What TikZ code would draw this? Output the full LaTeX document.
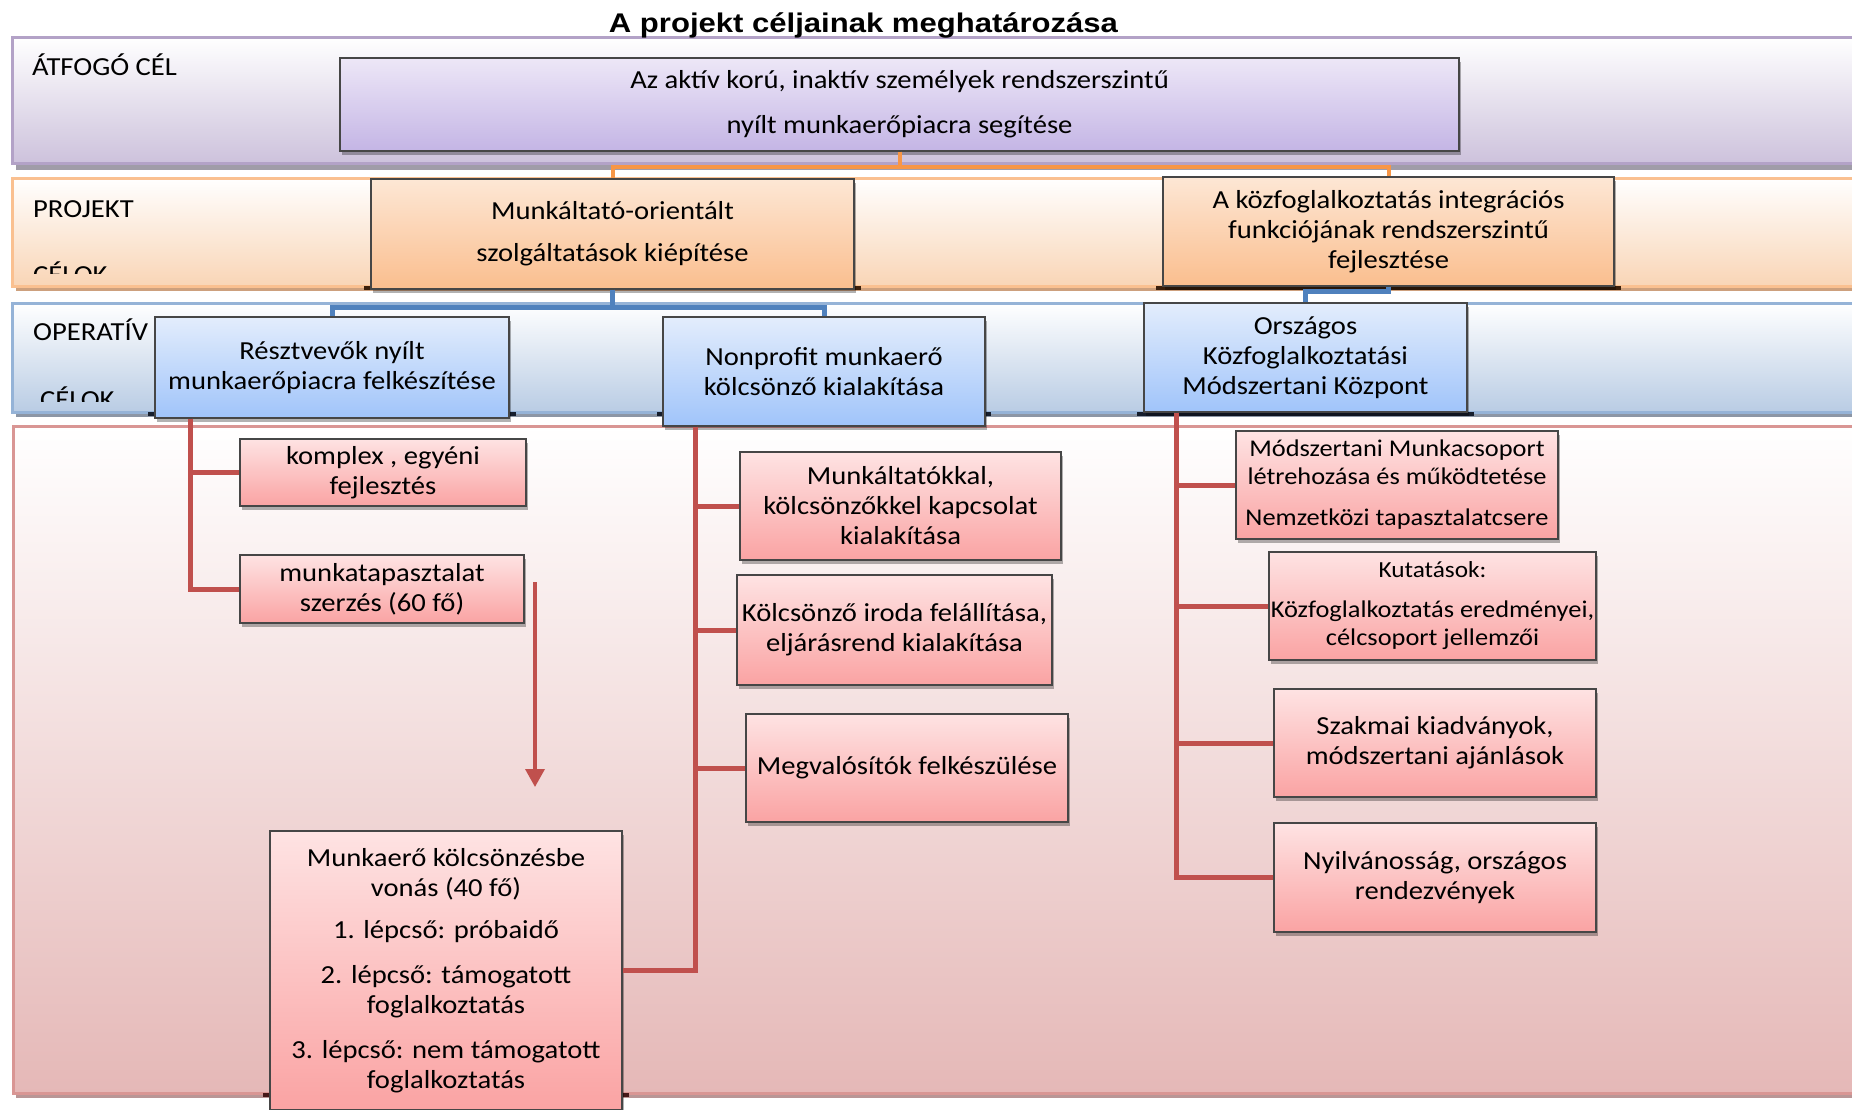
\documentclass[tikz,border=0pt]{standalone}
\usepackage{fontspec}
\setmainfont{Carlito}[FakeStretch=1.1]
\newfontfamily\titlefont{Liberation Sans}[FakeStretch=1.15]
\usetikzlibrary{arrows.meta, positioning, backgrounds, calc, shadows}
\definecolor{goaltop}{RGB}{237,231,247}
\definecolor{goalbot}{RGB}{196,181,229}
\definecolor{projtop}{RGB}{253,231,213}
\definecolor{projbot}{RGB}{250,190,142}
\definecolor{optop}{RGB}{227,237,252}
\definecolor{opbot}{RGB}{160,196,250}
\definecolor{tasktop}{RGB}{254,227,227}
\definecolor{taskbot}{RGB}{250,163,163}
\definecolor{boxborder}{RGB}{70,70,70}
\definecolor{goalline}{RGB}{179,162,199}
\definecolor{goalfill}{RGB}{205,194,220}
\definecolor{goalstrip}{RGB}{160,156,168}
\definecolor{projline}{RGB}{250,192,144}
\definecolor{projfill}{RGB}{249,213,182}
\definecolor{projstrip}{RGB}{205,160,125}
\definecolor{opline}{RGB}{149,179,215}
\definecolor{opfill}{RGB}{185,204,228}
\definecolor{opstrip}{RGB}{140,150,165}
\definecolor{taskline}{RGB}{217,150,148}
\definecolor{taskfill}{RGB}{229,184,183}
\definecolor{taskstrip}{RGB}{185,150,150}
\definecolor{linkorange}{HTML}{F79646}
\definecolor{linkblue}{HTML}{4F81BD}
\definecolor{linkred}{HTML}{C0504D}
\definecolor{edgebrown}{RGB}{60,32,12}
\definecolor{edgenavy}{RGB}{22,30,45}
\definecolor{edgered}{RGB}{70,25,25}
\newcommand{\boxfont}{\fontsize{26}{30}\selectfont}
\newcommand{\smallboxfont}{\fontsize{24}{28}\selectfont}
\tikzset{
  basebox/.style={
    draw=boxborder,
    line width=1.2pt,
    align=center,
    inner sep=0pt,
    font=\boxfont,
    drop shadow={shadow xshift=2pt, shadow yshift=-4pt, opacity=0.3, fill=black}
  },
  goalbox/.style={basebox, top color=goaltop, bottom color=goalbot},
  projbox/.style={basebox, top color=projtop, bottom color=projbot},
  opbox/.style={basebox, top color=optop, bottom color=opbot},
  taskbox/.style={basebox, top color=tasktop, bottom color=taskbot},
  band/.style={draw=#1line, top color=white, bottom color=#1fill, line width=3pt},
  strip/.style={fill=#1strip},
  bandlabel/.style={anchor=base west, inner sep=0pt, font=\boxfont},
  titletext/.style={anchor=base, inner sep=0pt, font=\titlefont\fontsize{27}{32}\selectfont\bfseries},
  orangelink/.style={draw=linkorange, line width=4pt},
  bluelink/.style={draw=linkblue, line width=5pt},
  redlink/.style={draw=linkred, line width=5pt},
  redarrow/.style={draw=linkred, line width=3.5pt, -{Triangle[length=18pt, width=19pt]}}
}
\begin{document}
\begin{tikzpicture}[x=1pt, y=-1pt]
  \useasboundingbox (0,0) rectangle (1852,1109);

  % Title
  \node (title) [titletext] at (863.5,32) {A projekt céljainak meghatározása};

  % Overall goal
  \node (goal) [goalbox, minimum width=1119pt, minimum height=93pt] at (899.5,104.5)
    {Az aktív korú, inaktív személyek rendszerszintű\\[15pt]nyílt munkaerőpiacra segítése};

  % Project goals
  \node (proj1) [projbox, minimum width=483pt, minimum height=110pt] at (612.5,234)
    {Munkáltató-orientált\\[12pt]szolgáltatások kiépítése};
  \node (proj2) [projbox, minimum width=451pt, minimum height=109pt] at (1388.5,231.5)
    {A közfoglalkoztatás integrációs\\funkciójának rendszerszintű\\fejlesztése};

  % Operative goals
  \node (op1) [opbox, minimum width=354pt, minimum height=101pt] at (332,367.5)
    {Résztvevők nyílt\\munkaerőpiacra felkészítése};
  \node (op2) [opbox, minimum width=322pt, minimum height=109pt] at (824,371.5)
    {Nonprofit munkaerő\\kölcsönző kialakítása};
  \node (op3) [opbox, minimum width=323pt, minimum height=109pt] at (1305.5,357.5)
    {Országos\\Közfoglalkoztatási\\Módszertani Központ};

  % Tasks
  \node (t11) [taskbox, minimum width=286pt, minimum height=67pt] at (383,472.5)
    {komplex , egyéni\\fejlesztés};
  \node (t12) [taskbox, minimum width=284pt, minimum height=68pt] at (382,589)
    {munkatapasztalat\\szerzés (60 fő)};
  \node (t13) [taskbox, minimum width=352pt, minimum height=279pt] at (446,970.5)
    {Munkaerő kölcsönzésbe\\vonás (40 fő)\\[12pt]1. lépcső: próbaidő\\[15pt]2. lépcső: támogatott\\foglalkoztatás\\[15pt]3. lépcső: nem támogatott\\foglalkoztatás};
  \node (t21) [taskbox, minimum width=321pt, minimum height=108pt] at (900.5,506)
    {Munkáltatókkal,\\kölcsönzőkkel kapcsolat\\kialakítása};
  \node (t22) [taskbox, minimum width=315pt, minimum height=110pt] at (894.5,630)
    {Kölcsönző iroda felállítása,\\eljárásrend kialakítása};
  \node (t23) [taskbox, minimum width=322pt, minimum height=108pt] at (907,768)
    {Megvalósítók felkészülése};
  \node (t31) [taskbox, font=\smallboxfont, minimum width=322pt, minimum height=108pt] at (1397,485)
    {Módszertani Munkacsoport\\létrehozása és működtetése\\[13pt]Nemzetközi tapasztalatcsere};
  \node (t32) [taskbox, font=\smallboxfont, minimum width=327pt, minimum height=108pt] at (1432.5,606)
    {{\fontsize{23}{27}\selectfont Kutatások:}\\[12pt]Közfoglalkoztatás eredményei,\\célcsoport jellemzői};
  \node (t33) [taskbox, minimum width=322pt, minimum height=108pt] at (1435,743)
    {Szakmai kiadványok,\\módszertani ajánlások};
  \node (t34) [taskbox, minimum width=322pt, minimum height=109pt] at (1435,877.5)
    {Nyilvánosság, országos\\rendezvények};

  % Band labels
  \node (lblgoal) [bandlabel] at (32,75) {ÁTFOGÓ CÉL};
  \node (lblproj) [bandlabel] at (33,217) {PROJEKT};
  \begin{scope}
    \clip (12,180) rectangle (360,273);
    \node (lblprojb) [bandlabel] at (33,283) {CÉLOK};
  \end{scope}
  \node (lblop) [bandlabel] at (33,340) {OPERATÍV};
  \begin{scope}
    \clip (12,305) rectangle (150,401);
    \node (lblopb) [bandlabel] at (40,408) {CÉLOK};
  \end{scope}

  % Connectors
  \draw [orangelink] (goal.south) -- ++(0,15) -| (proj1.north);
  \draw [orangelink] (goal.south) -- ++(0,15) -| (proj2.north);
  \draw [bluelink] (proj1.south) -- ++(0,18) -| (op1.north);
  \draw [bluelink] (proj1.south) -- ++(0,18) -| (op2.north);
  \draw [bluelink] (proj2.south) -- ++(0,5) -| (op3.north);
  \foreach \t in {t11,t12}
    \draw [redlink] ([xshift=36pt]op1.south west) |- (\t.west);
  \foreach \t in {t21,t22,t23}
    \draw [redlink] ([xshift=33pt]op2.south west) |- (\t.west);
  \draw [redlink] ([xshift=33pt]op2.south west) |- (t13.east);
  \foreach \t in {t31,t32,t33,t34}
    \draw [redlink] ([xshift=33pt]op3.south west) |- (\t.west);

  \coordinate (arrstart) at (535,582);
  \coordinate (arrend) at (535,787);
  \draw [redarrow] (arrstart) -- (arrend);

  % Bands
  \begin{scope}[on background layer]
    \fill [strip=goal] (16,163) rectangle (1880,170);
    \draw [band=goal] (12,37) rectangle (1880,163);
    \fill [strip=proj] (16,286) rectangle (1880,291);
    \draw [band=proj] (12,178) rectangle (1880,286);
    \fill [strip=op] (16,412) rectangle (1880,417);
    \draw [band=op] (12,303) rectangle (1880,412);
    \fill [strip=task] (16,1093) rectangle (1880,1098);
    \draw [band=task] (13,426) rectangle (1880,1093);
    \fill [edgebrown] (364,286) rectangle (861,290);
    \fill [edgebrown] (1156,286) rectangle (1621,290);
    \fill [edgenavy] (148,412) rectangle (516,416);
    \fill [edgenavy] (657,412) rectangle (991,416);
    \fill [edgenavy] (1137,412) rectangle (1474,416);
    \fill [edgered] (263,1093) rectangle (629,1097);
  \end{scope}

\end{tikzpicture}
\end{document}
